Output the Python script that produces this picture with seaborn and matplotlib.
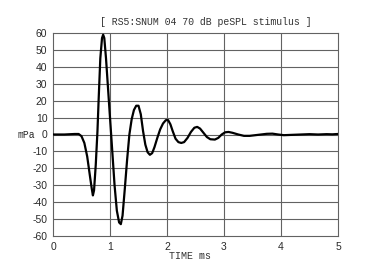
import matplotlib
matplotlib.use("Agg")
import matplotlib.pyplot as plt
import seaborn as sns
import pandas as pd

time_ms = [0, 0.2, 0.38, 0.45, 0.5, 0.55, 0.6, 0.65, 0.68, 0.70, 0.72, 0.75, 0.78,
           0.80, 0.83, 0.86, 0.88, 0.90, 0.93, 0.96, 1.00, 1.04, 1.08, 1.12, 1.16,
           1.19, 1.22, 1.26, 1.30, 1.34, 1.38, 1.42, 1.46, 1.50, 1.54, 1.58, 1.62,
           1.66, 1.70, 1.74, 1.78, 1.83, 1.88, 1.93, 1.98, 2.02, 2.06, 2.10, 2.15,
           2.20, 2.25, 2.30, 2.36, 2.42, 2.48, 2.53, 2.58, 2.64, 2.70, 2.76, 2.84,
           2.90, 2.96, 3.02, 3.08, 3.15, 3.25, 3.35, 3.45, 3.6, 3.75, 3.85, 3.95,
           4.05, 4.2, 4.35, 4.5, 4.65, 4.8, 4.9, 5.0]
pressure_mpa = [0, 0, 0.3, 0.3, -1, -5, -13, -25, -32, -36, -33, -18, 2,
                20, 45, 57, 59, 57, 45, 30, 10, -10, -30, -45, -52,
                -53, -48, -32, -15, 0, 9, 14.5, 17, 17, 12, 2, -6,
                -10.5, -12, -11, -7.5, -2, 3, 6.5, 8.5, 8.5, 6, 2, -2.5,
                -4.5, -5, -4.5, -2, 1.5, 4, 4.5, 3.5, 1, -1.5, -2.8, -3,
                -2, 0, 1.3, 1.5, 1, 0, -0.8, -0.8, -0.2, 0.4, 0.5, 0,
                -0.4, -0.2, 0, 0.2, 0, 0.2, 0.1, 0.3]

x_ticks = [0, 1, 2, 3, 4, 5]
y_ticks = list(range(-60, 61, 10))
title_text = "[ RS5:SNUM 04 70 dB peSPL stimulus ]"
x_label = "TIME ms"
y_label = "mPa"

df = pd.DataFrame({"t": time_ms, "p": pressure_mpa})

sns.set_style("white")
plt.rcParams['font.family'] = ['Liberation Sans', 'DejaVu Sans']

fig = plt.figure(figsize=(3.73, 2.76), dpi=100)
ax = fig.add_axes([53/373, 1-236/276, (338-53)/373, (236-33)/276])

grid_c = "#626262"
for v in y_ticks[1:-1]:
    ax.axhline(v, color=grid_c, lw=0.8, zorder=1)
for v in x_ticks[1:-1]:
    ax.axvline(v, color=grid_c, lw=0.8, zorder=1)

sns.lineplot(data=df, x="t", y="p", ax=ax, color="black", lw=1.6, zorder=3)

ax.set_xlim(0, 5)
ax.set_ylim(-60, 60)
ax.set_xticks(x_ticks)
ax.set_yticks(y_ticks)
ax.set_xticklabels([str(v) for v in x_ticks])
ax.set_yticklabels([str(v) for v in y_ticks])
ax.tick_params(axis="both", length=0, labelsize=7.5, colors="#2a2a2a", pad=4)
for s in ax.spines.values():
    s.set_color(grid_c)
    s.set_linewidth(0.8)

ax.set_xlabel("")
ax.set_ylabel(y_label, rotation=0, ha="right", va="center", fontsize=7,
              color="#2a2a2a", family=["Liberation Mono", "DejaVu Sans Mono"])
ax.yaxis.set_label_coords(-0.063, 0.5)

fig.text(206/373, 1-22/276, title_text, ha="center", va="center", fontsize=7.1,
         color="#333333", family=["Liberation Mono", "DejaVu Sans Mono"])
fig.text(190/373, 1-256/276, x_label, ha="center", va="center", fontsize=7.2,
         color="#333333", family=["Liberation Mono", "DejaVu Sans Mono"])

fig.savefig("out.png", dpi=100, facecolor="white")
